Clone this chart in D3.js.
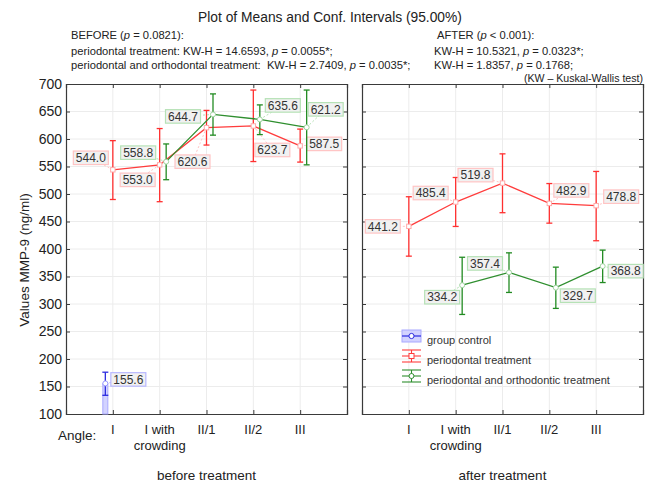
<!DOCTYPE html>
<html><head><meta charset="utf-8">
<script src="https://cdn.jsdelivr.net/npm/d3@7"></script>
<style>
body{margin:0;background:#fff}
svg{display:block;font-family:"Liberation Sans",Arial,sans-serif}
text{white-space:pre}
</style>
</head><body><svg id="c" width="658" height="490"></svg>
<script>
// ---------- data ----------
const categories = ["I", "I with crowding", "II/1", "II/2", "III"];
const categoryLines = [["I"], ["I with", "crowding"], ["II/1"], ["II/2"], ["III"]];
const yTicks = [100, 150, 200, 250, 300, 350, 400, 450, 500, 550, 600, 650, 700];
const seriesNames = ["group control", "periodontal treatment", "periodontal and orthodontic treatment"];
const panelTitles = ["before treatment", "after treatment"];

// before treatment
const beforeControlMean = [155.6, null, null, null, null];
const beforeControlLow  = [134, null, null, null, null];
const beforeControlHigh = [176, null, null, null, null];
const beforePerioMean = [544.0, 553.0, 620.6, 623.7, 587.5];
const beforePerioLow  = [490, 486, 589, 559, 558];
const beforePerioHigh = [597, 619, 652, 689, 618];
const beforeOrthoMean = [null, 558.8, 644.7, 635.6, 621.2];
const beforeOrthoLow  = [null, 526, 607, 608, 553];
const beforeOrthoHigh = [null, 591, 682, 662, 689];

// after treatment
const afterPerioMean = [441.2, 485.4, 519.8, 482.9, 478.8];
const afterPerioLow  = [387, 441, 466, 447, 415];
const afterPerioHigh = [495, 530, 573, 519, 541];
const afterOrthoMean = [null, 334.2, 357.4, 329.7, 368.8];
const afterOrthoLow  = [null, 281, 321, 292, 339];
const afterOrthoHigh = [null, 385, 393, 367, 398];

// ---------- layout (label placement) ----------
const offBeforeControl = [[23, -4], null, null, null, null];
const offBeforePerio = [[-22, -12], [-22, 15], [-14, 34], [19, 24], [24, -2]];
const offBeforeOrtho = [null, [-28, -9], [-30, 2], [23, -14], [19, -18]];
const offAfterPerio = [[-26, 0], [-25, -9], [-27, -8], [22, -13], [25, -9]];
const offAfterOrtho = [null, [-20, 12], [-24, -9], [22, 8], [23, 5]];

const styles = {
  control: {line: "#2b2be0", bar: "#2b2be0", mk: "#9a9aff", box: "#b8b8ff", dx: -7.5},
  perio:   {line: "#ff3c3c", bar: "#ff3030", mk: "#ffaaaa", box: "#ffc4c4", dx: 0},
  ortho:   {line: "#2f8f2f", bar: "#228b22", mk: "#9fd49f", box: "#b6e2b6", dx: 6.5}
};

const svg = d3.select("#c");
const Y0 = 84, Y1 = 414;
const y = d3.scaleLinear().domain([100, 700]).range([Y1, Y0]);

const panels = [
  {x0: 66, x1: 347, title: panelTitles[0], series: [
    {s: "control", m: beforeControlMean, lo: beforeControlLow, hi: beforeControlHigh, off: offBeforeControl},
    {s: "perio", m: beforePerioMean, lo: beforePerioLow, hi: beforePerioHigh, off: offBeforePerio},
    {s: "ortho", m: beforeOrthoMean, lo: beforeOrthoLow, hi: beforeOrthoHigh, off: offBeforeOrtho}
  ]},
  {x0: 362, x1: 643, title: panelTitles[1], series: [
    {s: "perio", m: afterPerioMean, lo: afterPerioLow, hi: afterPerioHigh, off: offAfterPerio},
    {s: "ortho", m: afterOrthoMean, lo: afterOrthoLow, hi: afterOrthoHigh, off: offAfterOrtho}
  ]}
];

panels.forEach((p, pi) => {
  const x = d3.scalePoint().domain(categories).range([p.x0, p.x1]).padding(1);
  const g = svg.append("g");
  // grid
  g.selectAll(".gy").data(yTicks.slice(1, -1)).join("line")
    .attr("x1", p.x0).attr("x2", p.x1).attr("y1", d => y(d)).attr("y2", d => y(d))
    .attr("stroke", "#ececec").attr("stroke-width", 1);
  g.selectAll(".gx").data(categories).join("line")
    .attr("x1", d => x(d)).attr("x2", d => x(d)).attr("y1", Y0).attr("y2", Y1)
    .attr("stroke", "#ececec").attr("stroke-width", 1);
  // axes (inside ticks)
  const axL = d3.axisLeft(y).tickValues(yTicks).tickSize(-4).tickPadding(4);
  const axR = d3.axisRight(y).tickValues(yTicks).tickSize(-4).tickFormat("");
  const axT = d3.axisTop(x).tickSize(-4).tickFormat("");
  const axB = d3.axisBottom(x).tickSize(-4).tickFormat("");
  const gl = g.append("g").attr("transform", `translate(${p.x0},0)`).call(axL);
  if (pi === 1) gl.selectAll("text").remove();
  else gl.selectAll("text").attr("font-size", 14).attr("fill", "#222").attr("font-family", "Liberation Sans, Arial, sans-serif");
  g.append("g").attr("transform", `translate(${p.x1},0)`).call(axR);
  g.append("g").attr("transform", `translate(0,${Y0})`).call(axT);
  g.append("g").attr("transform", `translate(0,${Y1})`).call(axB);
  g.selectAll(".domain").attr("stroke", "#3a3a3a").attr("stroke-width", 1.2);
  g.selectAll(".tick line").attr("stroke", "#3a3a3a");
  // category labels
  categories.forEach((c, i) => {
    const t = g.append("text").attr("text-anchor", "middle").attr("font-size", 13).attr("fill", "#222");
    categoryLines[i].forEach((ln, k) => {
      t.append("tspan").attr("x", x(c)).attr("y", 434 + k * 16).text(ln);
    });
  });
  g.append("text").attr("x", (p.x0 + p.x1) / 2).attr("y", 480).attr("text-anchor", "middle")
    .attr("font-size", 13.5).attr("fill", "#222").text(p.title);

  // series
  p.series.forEach(sr => {
    const st = styles[sr.s];
    const pts = categories.map((c, i) => ({c, i, m: sr.m[i], lo: sr.lo[i], hi: sr.hi[i], off: sr.off[i]}))
      .filter(d => d.m != null);
    const px = d => x(d.c) + st.dx;
    if (sr.s === "control") {
      g.selectAll(null).data(pts).join("rect")
        .attr("x", d => px(d) - 2.5).attr("width", 5)
        .attr("y", d => y(d.m)).attr("height", d => Y1 - y(d.m))
        .attr("fill", "#c8c8ff").attr("fill-opacity", 0.8).attr("stroke", "#a8a8ff");
    }
    const line = d3.line().x(px).y(d => y(d.m));
    g.append("path").datum(pts).attr("d", line).attr("fill", "none")
      .attr("stroke", st.line).attr("stroke-width", 1.3);
    // error bars
    const eb = g.selectAll(null).data(pts).join("g");
    eb.append("line").attr("x1", px).attr("x2", px).attr("y1", d => y(d.lo)).attr("y2", d => y(d.hi))
      .attr("stroke", st.bar).attr("stroke-width", 1.3);
    eb.append("line").attr("x1", d => px(d) - 3).attr("x2", d => px(d) + 3).attr("y1", d => y(d.lo)).attr("y2", d => y(d.lo))
      .attr("stroke", st.bar).attr("stroke-width", 1.3);
    eb.append("line").attr("x1", d => px(d) - 3).attr("x2", d => px(d) + 3).attr("y1", d => y(d.hi)).attr("y2", d => y(d.hi))
      .attr("stroke", st.bar).attr("stroke-width", 1.3);
    // labels
    pts.forEach(d => {
      const cx = px(d) + d.off[0], cy = y(d.m) + d.off[1];
      g.append("line").attr("x1", px(d)).attr("y1", y(d.m)).attr("x2", cx).attr("y2", cy)
        .attr("stroke", st.box).attr("stroke-width", 1).attr("stroke-dasharray", "2,2");
      const bw = 35, bh = 13.5;
      g.append("rect").attr("x", cx - bw / 2).attr("y", cy - bh / 2).attr("width", bw).attr("height", bh)
        .attr("fill", "#f1f1f1").attr("stroke", st.box).attr("stroke-width", 1.2);
      g.append("text").attr("x", cx).attr("y", cy + 4.3).attr("text-anchor", "middle")
        .attr("font-size", 12).attr("fill", "#333").text(d.m.toFixed(1));
    });
    // markers
    if (sr.s === "perio") {
      g.selectAll(null).data(pts).join("rect")
        .attr("x", d => px(d) - 2.2).attr("y", d => y(d.m) - 2.2).attr("width", 4.4).attr("height", 4.4)
        .attr("fill", "#fff").attr("stroke", st.mk).attr("stroke-width", 1);
    } else {
      g.selectAll(null).data(pts).join("circle")
        .attr("cx", px).attr("cy", d => y(d.m)).attr("r", 2.5)
        .attr("fill", "#fff").attr("stroke", st.mk).attr("stroke-width", 1);
    }
  });
});

// Y axis title
svg.append("text").attr("transform", "translate(29,260) rotate(-90)").attr("text-anchor", "middle")
  .attr("font-size", 13.5).attr("fill", "#222").text("Values MMP-9 (ng/ml)");
// Angle label
svg.append("text").attr("x", 58).attr("y", 440).attr("font-size", 13.5).attr("fill", "#222").text("Angle:");

// Title & header
svg.append("text").attr("x", 330).attr("y", 22).attr("text-anchor", "middle").attr("font-size", 13.8)
  .attr("fill", "#222").text("Plot of Means and Conf. Intervals (95.00%)");

function richText(xp, yp, parts, anchor, fs) {
  const t = svg.append("text").attr("x", xp).attr("y", yp).attr("font-size", fs || 11.2).attr("fill", "#222");
  if (anchor) t.attr("text-anchor", anchor);
  parts.forEach(pt => {
    const s = t.append("tspan").text(pt[0]);
    if (pt[1]) s.attr("font-style", "italic");
  });
}
richText(71, 39, [["BEFORE ("], ["p", 1], [" = 0.0821):"]]);
richText(71, 54.5, [["periodontal treatment: KW-H = 14.6593, "], ["p", 1], [" = 0.0055*;"]]);
richText(71, 69, [["periodontal and orthodontal treatment:  KW-H = 2.7409, "], ["p", 1], [" = 0.0035*;"]]);
richText(437, 39, [["AFTER ("], ["p", 1], [" < 0.001):"]]);
richText(434, 54.5, [["KW-H = 10.5321, "], ["p", 1], [" = 0.0323*;"]]);
richText(434, 69, [["KW-H = 1.8357, "], ["p", 1], [" = 0.1768;"]]);
richText(643, 81.5, [["(KW – Kuskal-Wallis test)"]], "end", 10.6);

// Legend
const lg = svg.append("g");
const lgY = [336, 356, 376];
const lgKeys = ["control", "perio", "ortho"];
const lx0 = 402, lx1 = 421, lcx = 411.5;
lgKeys.forEach((k, i) => {
  const st = styles[k], cy = lgY[i];
  if (k === "control") {
    lg.append("rect").attr("x", lx0).attr("y", cy - 6).attr("width", lx1 - lx0).attr("height", 12)
      .attr("fill", "#d2d2ff").attr("stroke", "#a8a8ff");
    lg.append("line").attr("x1", lx0).attr("x2", lx1).attr("y1", cy).attr("y2", cy).attr("stroke", st.line).attr("stroke-width", 1.2);
    lg.append("circle").attr("cx", lcx).attr("cy", cy).attr("r", 2.6).attr("fill", "#fff").attr("stroke", st.line);
  } else {
    [cy - 6, cy, cy + 6].forEach(yy => lg.append("line").attr("x1", lx0).attr("x2", lx1).attr("y1", yy).attr("y2", yy)
      .attr("stroke", st.line).attr("stroke-width", 1.1));
    lg.append("line").attr("x1", lcx).attr("x2", lcx).attr("y1", cy - 6).attr("y2", cy + 6).attr("stroke", st.line).attr("stroke-width", 1.1);
    if (k === "perio") lg.append("rect").attr("x", lcx - 2.5).attr("y", cy - 2.5).attr("width", 5).attr("height", 5).attr("fill", "#fff").attr("stroke", st.line);
    else lg.append("circle").attr("cx", lcx).attr("cy", cy).attr("r", 2.5).attr("fill", "#fff").attr("stroke", st.line);
  }
  lg.append("text").attr("x", 427).attr("y", cy + 8).attr("font-size", 11).attr("fill", "#333").text(seriesNames[i]);
});
</script>
</body></html>
